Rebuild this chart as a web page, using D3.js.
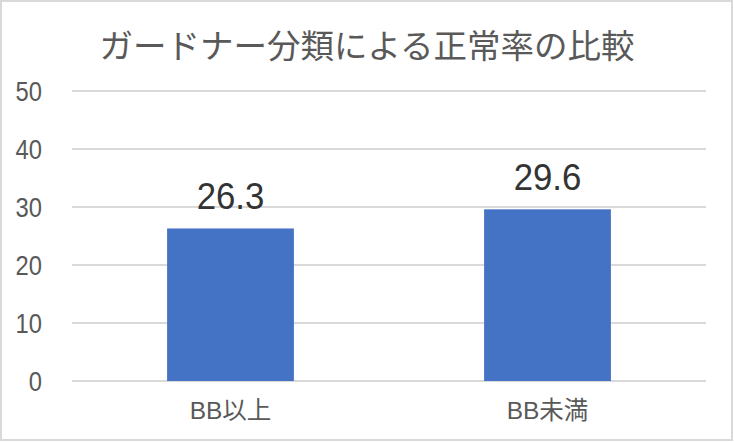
<!DOCTYPE html>
<html><head><meta charset="utf-8">
<script src="https://cdn.jsdelivr.net/npm/d3@7"></script>
<style>
html,body{margin:0;padding:0;background:#fff;}
svg{display:block;}
</style></head>
<body>
<svg id="chart" width="734" height="442"></svg>
<script>
const title = "ガードナー分類による正常率の比較";
const categories = ["BB以上", "BB未満"];
const values = [26.3, 29.6];
const yTicks = [0, 10, 20, 30, 40, 50];

const W = 734, H = 442;
const svg = d3.select("#chart");
const latin = "'Liberation Sans', Arial, 'Noto Sans CJK JP', sans-serif";
const cjk = "'Noto Sans CJK JP', 'Noto Sans', sans-serif";

// frame
svg.append("rect").attr("x", 1).attr("y", 1).attr("width", W - 3).attr("height", H - 3)
  .attr("fill", "#fff").attr("stroke", "#d9d9d9").attr("stroke-width", 2);

const plot = {left: 72, right: 706, top: 91, bottom: 381};
const x = d3.scaleBand().domain(categories).range([plot.left, plot.right]).padding(0);
const y = d3.scaleLinear().domain([0, 50]).range([plot.bottom, plot.top]);

// title
svg.append("text").attr("x", W / 2).attr("y", 58).attr("text-anchor", "middle")
  .attr("font-family", cjk).attr("font-size", 33.5).attr("fill", "#595959")
  .text(title);

// gridlines
svg.append("g").selectAll("line").data(yTicks).join("line")
  .attr("x1", plot.left).attr("x2", plot.right)
  .attr("y1", d => y(d)).attr("y2", d => y(d))
  .attr("stroke", "#d9d9d9").attr("stroke-width", 2);

// y tick labels
svg.append("g").selectAll("text").data(yTicks).join("text")
  .attr("transform", d => `translate(42,${y(d)}) scale(0.88,1)`)
  .attr("dy", "0.36em").attr("text-anchor", "end")
  .attr("font-family", latin).attr("font-size", 27).attr("fill", "#595959")
  .text(d => d);

// bars
const bw = x.bandwidth() * 0.4;
svg.append("g").selectAll("rect").data(values).join("rect")
  .attr("x", (d, i) => x(categories[i]) + (x.bandwidth() - bw) / 2)
  .attr("y", d => y(d))
  .attr("width", bw)
  .attr("height", d => y(0) - y(d))
  .attr("fill", "#4472C4");

// data labels
svg.append("g").selectAll("text").data(values).join("text")
  .attr("transform", (d, i) => `translate(${x(categories[i]) + x.bandwidth() / 2},${y(d) - 19}) scale(0.94,1)`)
  .attr("text-anchor", "middle")
  .attr("font-family", latin).attr("font-size", 37).attr("fill", "#333333")
  .text(d => d.toFixed(1));

// category labels
svg.append("g").selectAll("text").data(categories).join("text")
  .attr("x", d => x(d) + x.bandwidth() / 2).attr("y", 419)
  .attr("text-anchor", "middle")
  .attr("font-family", latin).attr("font-size", 24.5).attr("fill", "#595959")
  .text(d => d);
</script>
</body></html>
